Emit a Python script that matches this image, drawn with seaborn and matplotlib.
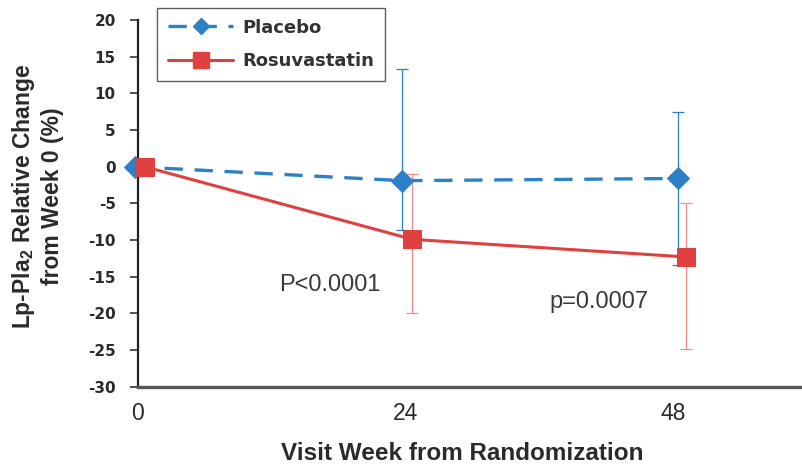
import numpy as np
import pandas as pd
import matplotlib
matplotlib.use("Agg")
import matplotlib.pyplot as plt
import seaborn as sns
from matplotlib.lines import Line2D

sns.set_theme(style="white")
plt.rcParams["font.family"] = ["Liberation Sans", "DejaVu Sans"]
plt.rcParams["axes.unicode_minus"] = False

# Visit weeks (slightly offset per group so error bars don't overlap)
weeks_placebo = [-0.3, 23.7, 48.4]
weeks_rosu = [0.6, 24.6, 49.1]
tick_weeks = [0, 24, 48]

# Mean relative change (%) and error bar extents
placebo_mean = [0.0, -1.9, -1.6]
placebo_low = [0.0, -8.6, -13.4]
placebo_high = [0.0, 13.3, 7.5]

rosu_mean = [0.0, -9.9, -12.3]
rosu_low = [0.0, -20.0, -24.9]
rosu_high = [0.0, -1.0, -4.9]

p_labels = ["P<0.0001", "p=0.0007"]
p_pos = [(17.2, -17.0), (41.3, -19.3)]

blue = "#2c80c6"
red = "#e0403f"
red_err = "#ee8a8a"
dash = (0, (5.5, 3.5))

df = pd.DataFrame({
    "week": weeks_placebo + weeks_rosu,
    "change": placebo_mean + rosu_mean,
    "group": ["Placebo"] * 3 + ["Rosuvastatin"] * 3,
})

fig = plt.figure(figsize=(8.02, 4.66), dpi=100)
ax = fig.add_axes([0.172, 0.17, 0.828, 0.787])

# error bars first so markers sit on top
ax.errorbar(weeks_placebo[1:], placebo_mean[1:],
            yerr=[np.subtract(placebo_mean, placebo_low)[1:], np.subtract(placebo_high, placebo_mean)[1:]],
            fmt="none", ecolor=blue, elinewidth=0.9, capsize=4, capthick=0.9, zorder=1)
ax.errorbar(weeks_rosu[1:], rosu_mean[1:],
            yerr=[np.subtract(rosu_mean, rosu_low)[1:], np.subtract(rosu_high, rosu_mean)[1:]],
            fmt="none", ecolor=red_err, elinewidth=0.9, capsize=4, capthick=0.9, zorder=1)

sns.lineplot(data=df[df.group == "Placebo"], x="week", y="change", ax=ax,
             color=blue, linestyle=dash, linewidth=2.4, marker="D",
             markersize=11, markeredgecolor=blue, legend=False, zorder=3,
             errorbar=None, clip_on=False)
sns.lineplot(data=df[df.group == "Rosuvastatin"], x="week", y="change", ax=ax,
             color=red, linewidth=2.2, marker="s", markersize=12.5,
             markeredgecolor=red, legend=False, zorder=4, errorbar=None, clip_on=False)

ax.set_xlim(0, 59.5)
ax.set_ylim(-30, 20)
ax.set_yticks(np.arange(-30, 21, 5))
ax.set_xticks(tick_weeks)
ax.set_xticklabels([str(w) for w in tick_weeks], fontsize=16.5, color="#2a2a2a")
for lab in ax.get_yticklabels():
    lab.set_fontfamily("DejaVu Sans")
    lab.set_fontweight("bold")
    lab.set_fontsize(11)
    lab.set_color("#2a2a2a")

ax.tick_params(axis="y", which="major", direction="out", length=6, width=1.2,
               color="#333333", left=True, pad=10)
ax.tick_params(axis="x", length=0, pad=11)

for side in ["top", "right"]:
    ax.spines[side].set_visible(False)
ax.spines["left"].set_color("#222222")
ax.spines["left"].set_linewidth(1.6)
ax.spines["bottom"].set_color("#555555")
ax.spines["bottom"].set_linewidth(2.4)

ax.set_xlabel("Visit Week from Randomization", fontsize=17.5, fontweight="bold",
              color="#2a2a2a", va="top")
ax.xaxis.set_label_coords(0.488, -0.150)
ax.set_ylabel("Lp-Pla$_\\mathregular{2}$ Relative Change\nfrom Week 0 (%)", fontsize=16.5,
              fontweight="bold", color="#2a2a2a", linespacing=1.2, va="center")
ax.yaxis.set_label_coords(-0.152, 0.52)

for text, (px, py) in zip(p_labels, p_pos):
    ax.text(px, py, text, fontsize=17, color="#3a3a3a", ha="center", va="baseline")

handles = [
    Line2D([], [], color=blue, linestyle=dash, linewidth=2.4, marker="D",
           markersize=8, label="Placebo"),
    Line2D([], [], color=red, linewidth=2.2, marker="s", markersize=11, label="Rosuvastatin"),
]
leg = fig.legend(handles=handles, loc="upper left", bbox_to_anchor=(0.196, 0.983),
                 frameon=True, fancybox=False, edgecolor="#333333", handlelength=3.6,
                 prop={"family": "DejaVu Sans", "weight": "bold", "size": 13},
                 borderpad=0.6, labelspacing=0.85, handletextpad=0.5, borderaxespad=0)
leg.get_frame().set_linewidth(1.0)
for t in leg.get_texts():
    t.set_color("#333333")

fig.savefig("out.png", dpi=100)
